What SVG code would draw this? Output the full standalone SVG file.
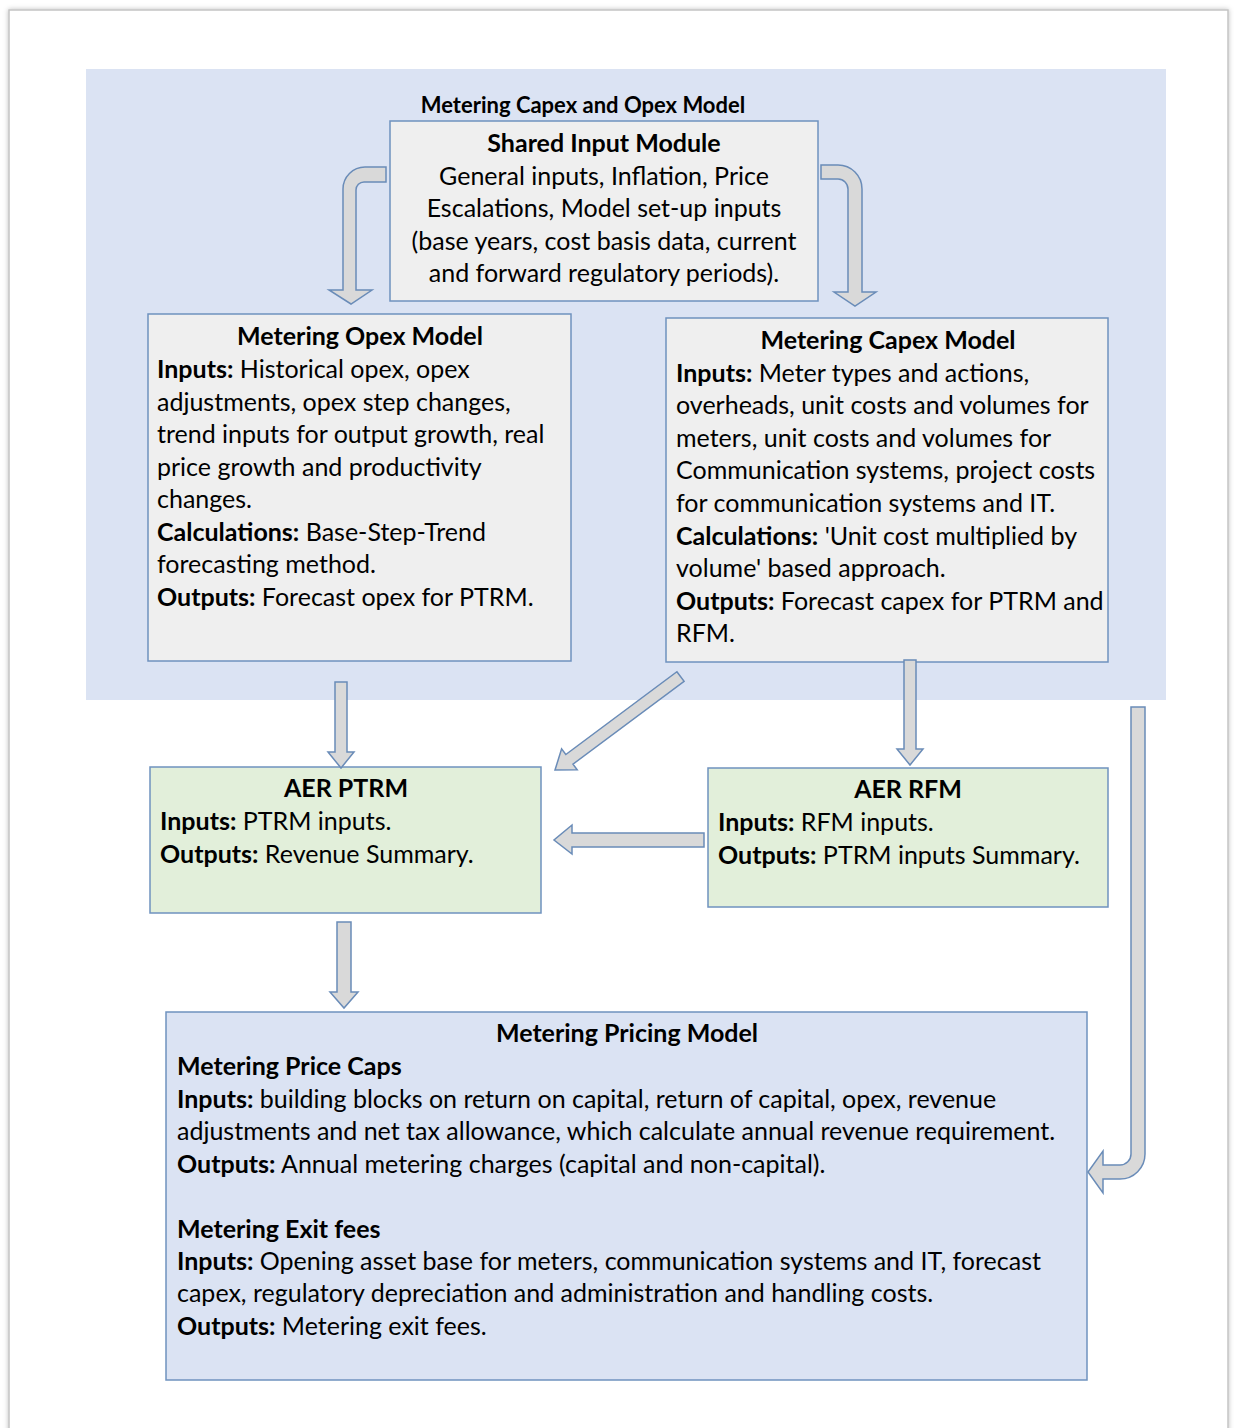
<svg xmlns="http://www.w3.org/2000/svg" width="1234" height="1428" viewBox="0 0 1234 1428">
<defs>
<filter id="sh" x="-5%" y="-5%" width="110%" height="110%">
<feDropShadow dx="0" dy="0" stdDeviation="2.5" flood-color="#000" flood-opacity="0.25"/>
</filter>
<style>
.t{font-family:Lato,"Liberation Sans",sans-serif;font-size:25px;fill:#000}
.b{font-weight:bold}
.c{text-anchor:middle}
.box{stroke:#6f92bf;stroke-width:1.5}
.gray{fill:#efefef}
.green{fill:#e2efda}
.blue{fill:#dbe3f3}
.arr{fill:#d9d9d9;stroke:#6a8cb8;stroke-width:1.5;stroke-linejoin:miter}
</style>
</defs>
<rect x="9" y="10" width="1219" height="1440" fill="#fff" stroke="#c4c4c4" stroke-width="1.5" filter="url(#sh)"/>
<rect x="86" y="69" width="1080" height="631" fill="#dbe3f3"/>
<text class="t b c" x="583" y="113" style="font-size:22px">Metering Capex and Opex Model</text>

<g id="shared">
<rect class="box gray" x="390" y="121" width="428" height="180"/>
<text class="t b c" x="604" y="152">Shared Input Module</text>
<text class="t c" x="604" y="185">General inputs, Inflation, Price</text>
<text class="t c" x="604" y="217">Escalations, Model set-up inputs</text>
<text class="t c" x="604" y="250">(base years, cost basis data, current</text>
<text class="t c" x="604" y="282">and forward regulatory periods).</text>
</g>

<g id="opex">
<rect class="box gray" x="148" y="314" width="423" height="347"/>
<text class="t b c" x="360" y="345">Metering Opex Model</text>
<text class="t" x="157" y="378"><tspan class="b">Inputs:</tspan> Historical opex, opex</text>
<text class="t" x="157" y="411">adjustments, opex step changes,</text>
<text class="t" x="157" y="443">trend inputs for output growth, real</text>
<text class="t" x="157" y="476">price growth and productivity</text>
<text class="t" x="157" y="508">changes.</text>
<text class="t" x="157" y="541"><tspan class="b">Calculations:</tspan> Base-Step-Trend</text>
<text class="t" x="157" y="573">forecasting method.</text>
<text class="t" x="157" y="606"><tspan class="b">Outputs:</tspan> Forecast opex for PTRM.</text>
</g>

<g id="capex">
<rect class="box gray" x="666" y="318" width="442" height="344"/>
<text class="t b c" x="888" y="349">Metering Capex Model</text>
<text class="t" x="676" y="382"><tspan class="b">Inputs:</tspan> Meter types and actions,</text>
<text class="t" x="676" y="414">overheads, unit costs and volumes for</text>
<text class="t" x="676" y="447">meters, unit costs and volumes for</text>
<text class="t" x="676" y="479">Communication systems, project costs</text>
<text class="t" x="676" y="512">for communication systems and IT.</text>
<text class="t" x="676" y="545"><tspan class="b">Calculations:</tspan> 'Unit cost multiplied by</text>
<text class="t" x="676" y="577">volume' based approach.</text>
<text class="t" x="676" y="610"><tspan class="b">Outputs:</tspan> Forecast capex for PTRM and</text>
<text class="t" x="676" y="642">RFM.</text>
</g>

<g id="ptrm">
<rect class="box green" x="150" y="767" width="391" height="146"/>
<text class="t b c" x="346" y="797">AER PTRM</text>
<text class="t" x="160" y="830"><tspan class="b">Inputs:</tspan> PTRM inputs.</text>
<text class="t" x="160" y="863"><tspan class="b">Outputs:</tspan> Revenue Summary.</text>
</g>

<g id="rfm">
<rect class="box green" x="708" y="768" width="400" height="139"/>
<text class="t b c" x="908" y="798">AER RFM</text>
<text class="t" x="718" y="831"><tspan class="b">Inputs:</tspan> RFM inputs.</text>
<text class="t" x="718" y="864"><tspan class="b">Outputs:</tspan> PTRM inputs Summary.</text>
</g>

<g id="pricing">
<rect class="box blue" x="166" y="1012" width="921" height="368"/>
<text class="t b c" x="627" y="1042">Metering Pricing Model</text>
<text class="t b" x="177" y="1075">Metering Price Caps</text>
<text class="t" x="177" y="1108"><tspan class="b">Inputs:</tspan> building blocks on return on capital, return of capital, opex, revenue</text>
<text class="t" x="177" y="1140">adjustments and net tax allowance, which calculate annual revenue requirement.</text>
<text class="t" x="177" y="1173"><tspan class="b">Outputs:</tspan> Annual metering charges (capital and non-capital).</text>
<text class="t b" x="177" y="1238">Metering Exit fees</text>
<text class="t" x="177" y="1270"><tspan class="b">Inputs:</tspan> Opening asset base for meters, communication systems and IT, forecast</text>
<text class="t" x="177" y="1302">capex, regulatory depreciation and administration and handling costs.</text>
<text class="t" x="177" y="1335"><tspan class="b">Outputs:</tspan> Metering exit fees.</text>
</g>

<g id="connectors">
<path class="arr" d="M386,167 L365,167 A22,22 0 0 0 343,189 L343,290 L329,290 L351,304 L372,290 L356,290 L356,190 A8,8 0 0 1 364,182 L386,182 Z"/>
<path class="arr" d="M821,165 L838,165 A24,24 0 0 1 862,189 L862,292 L876,292 L855,306 L834,292 L848,292 L848,189 A10,10 0 0 0 838,179 L821,179 Z"/>
<path class="arr" d="M335,682 L347,682 L347,752 L354,752 L341,768 L328,752 L335,752 Z"/>
<path class="arr" d="M337,922 L351,922 L351,992 L358,992 L344,1008 L330,992 L337,992 Z"/>
<path class="arr" d="M904,660 L916,660 L916,749 L923,749 L910,765 L897,749 L904,749 Z"/>
<path class="arr" d="M676.9,671.7 L684.1,681.3 L573,764.1 L577.2,769.7 L555,770 L561.6,748.9 L565.8,754.5 Z"/>
<path class="arr" d="M704,833 L704,847 L572,847 L572,854 L554,840 L572,825 L572,833 Z"/>
<path class="arr" d="M1131,707 L1145,707 L1145,1154 A25,25 0 0 1 1120,1179 L1103,1179 L1103,1193 L1088,1172 L1103,1151 L1103,1165 L1120,1165 A11,11 0 0 0 1131,1154 Z"/>
</g>
</svg>
